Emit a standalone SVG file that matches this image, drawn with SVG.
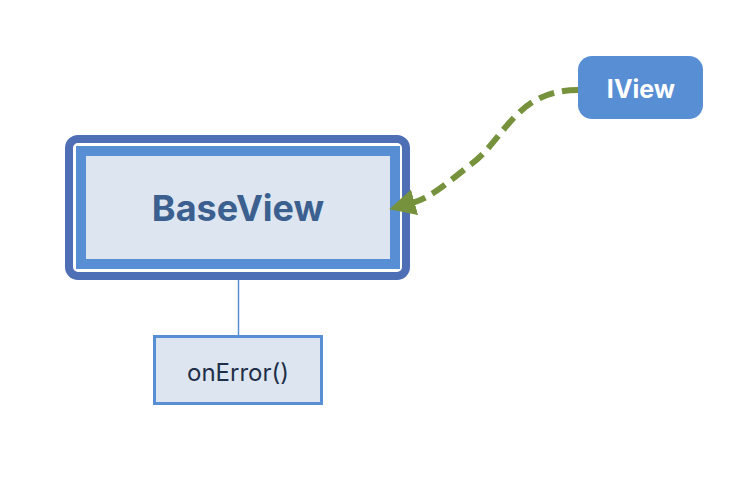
<svg xmlns="http://www.w3.org/2000/svg" width="744" height="480" viewBox="0 0 744 480">
<style>
.t{font-family:Inter,"Liberation Sans",sans-serif;text-anchor:middle}
.b{font-weight:700}
</style>
<defs>
<marker id="ah" viewBox="0 0 10 10" refX="1" refY="5" markerWidth="4.4" markerHeight="4.4" orient="auto-start-reverse" markerUnits="strokeWidth">
<path d="M0,0 L10,5 L0,10 Z" fill="#77923c"/>
</marker>
</defs>
<rect width="744" height="480" fill="#ffffff"/>
<g id="connectors">
<line x1="238.5" y1="270" x2="238.5" y2="336" stroke="#588ed4" stroke-width="1.5"/>
</g>
<g id="BaseView">
<rect x="69" y="139" width="337" height="137" rx="9" fill="#ffffff" stroke="#4e6eb5" stroke-width="8"/>
<rect x="81" y="151" width="314" height="113" fill="#dde6f0" stroke="#588ed4" stroke-width="10"/>
<text class="t b" x="238" y="221" font-size="36" fill="#3b5f8f">BaseView</text>
</g>
<g id="IView">
<rect x="578" y="56" width="125" height="63" rx="14" fill="#588ed4"/>
<text class="t b" x="641" y="98" font-size="25" fill="#ffffff">IView</text>
</g>
<g id="onError">
<rect x="154.5" y="336.5" width="167" height="67" fill="#dde6f0" stroke="#588ed4" stroke-width="3"/>
<text class="t" x="238" y="381" font-size="24" fill="#1f2f4a">onError()</text>
</g>
<g id="connectors-top">
<path d="M578,90 C515,90 505,140 470,165 C445,185 430,198 412,203" fill="none" stroke="#77923c" stroke-width="6" stroke-dasharray="16,8" marker-end="url(#ah)"/>
</g>
</svg>
